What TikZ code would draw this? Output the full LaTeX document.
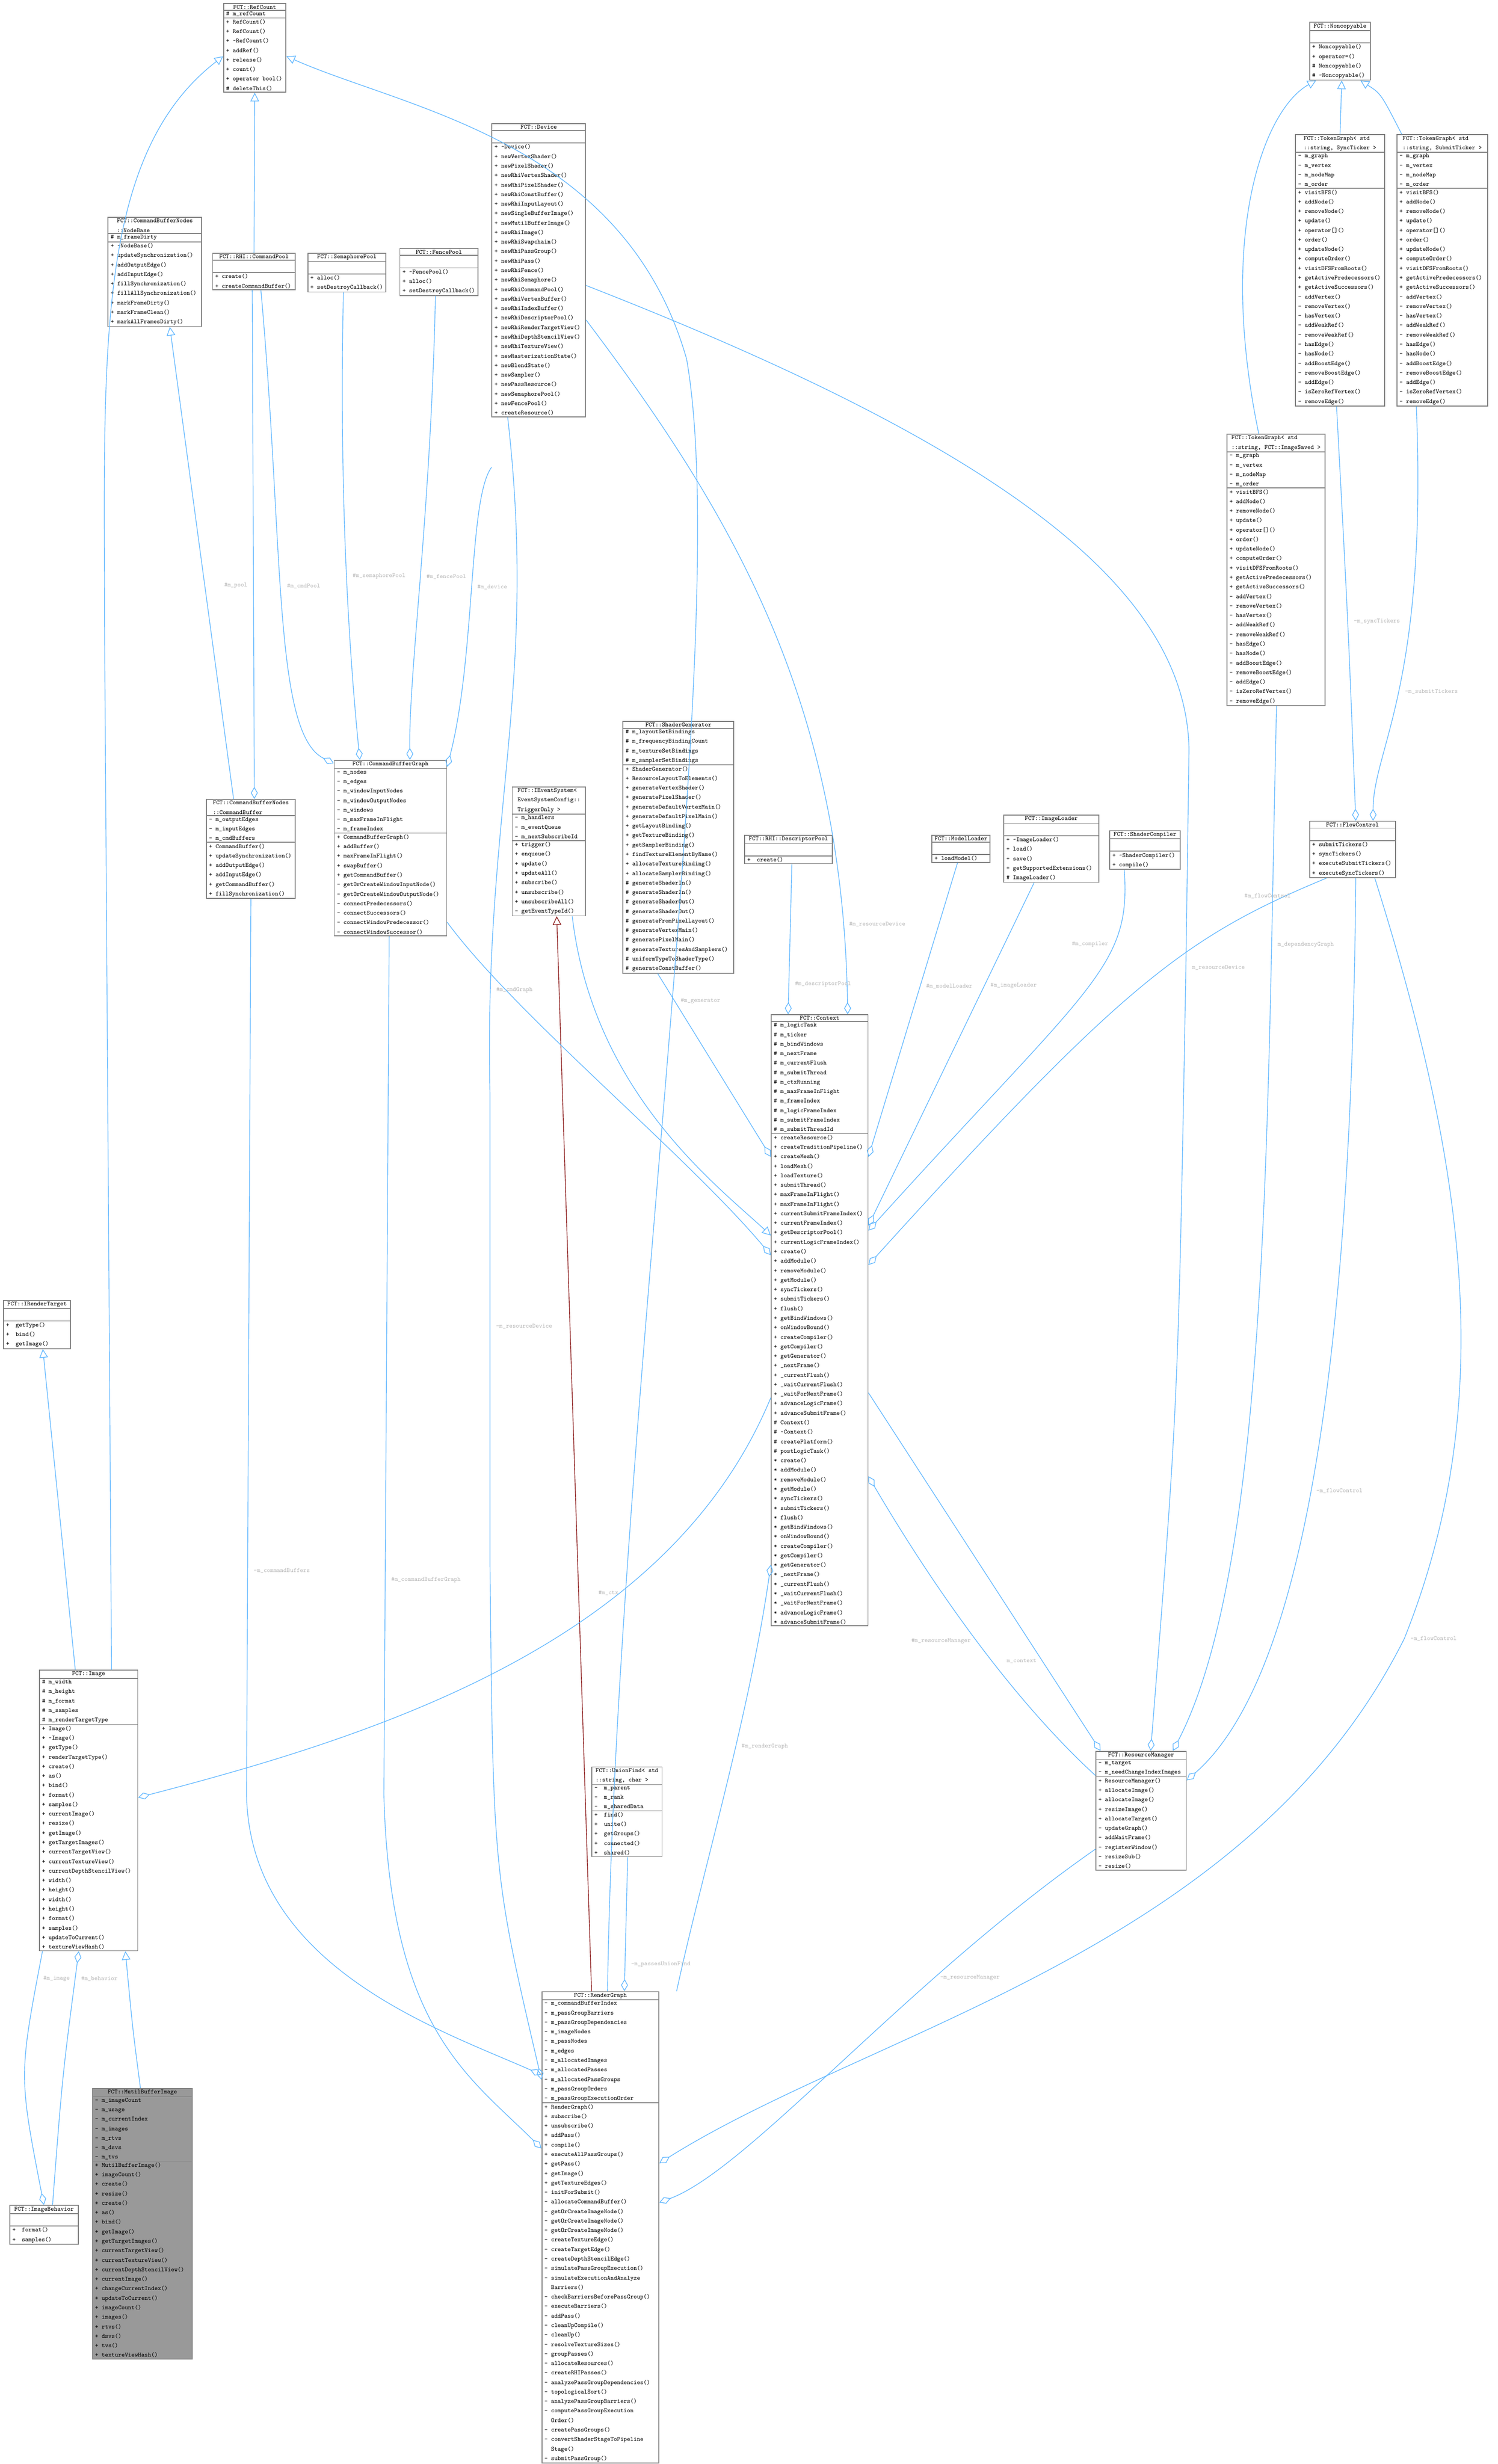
\documentclass[tikz,border=0pt]{standalone}
\usepackage{tikz}
\usetikzlibrary{shapes.multipart}
\usetikzlibrary{arrows.meta}
\definecolor{edgeblue}{RGB}{99,184,255}
\definecolor{edgered}{RGB}{139,26,26}
\definecolor{boxgray}{RGB}{128,128,128}

\begin{document}
\begin{tikzpicture}[x=0.03175cm,y=-0.03175cm,
    cls/.style={draw=boxgray, line width=0.5pt, fill=white, anchor=north west,
        rectangle split, rectangle split parts=3, rectangle split part align={center,left,left},
        inner xsep=1.5pt, inner ysep=0.6pt, align=left, minimum width=#1*0.3175mm,
        font=\ttfamily\fontsize{3.6}{5.5}\selectfont},
    inh/.style={draw=edgeblue, line width=0.4pt, -{Triangle[open,length=5pt,width=5pt]}},
    tmpl/.style={draw=edgered, line width=0.4pt, -{Triangle[open,length=5pt,width=5pt]}},
    agg/.style={draw=edgeblue, line width=0.4pt, -{Diamond[open,length=7pt,width=4pt]}},
    lbl/.style={font=\ttfamily\fontsize{3.6}{4}\selectfont, text=gray!55}]
    \useasboundingbox (0,0) rectangle (960,1579);

    % 上层的类
    \node[cls=40] (refcount) at (143,2) {FCT::RefCount \nodepart{second} \# m\_refCount
        \nodepart{third} + RefCount()\\+ RefCount()\\+ \textasciitilde RefCount()\\+ addRef()\\+ release()\\+ count()\\+ operator bool()\\\# deleteThis()};
    \node[cls=60] (device) at (315,79) {FCT::Device \nodepart{second} \strut
        \nodepart{third} + \textasciitilde Device()\\+ newVertexShader()\\+ newPixelShader()\\+ newRhiVertexShader()\\+ newRhiPixelShader()\\+ newRhiConstBuffer()\\+ newRhiInputLayout()\\+ newSingleBufferImage()\\+ newMutilBufferImage()\\+ newRhiImage()\\+ newRhiSwapchain()\\+ newRhiPassGroup()\\+ newRhiPass()\\+ newRhiFence()\\+ newRhiSemaphore()\\+ newRhiCommandPool()\\+ newRhiVertexBuffer()\\+ newRhiIndexBuffer()\\+ newRhiDescriptorPool()\\+ newRhiRenderTargetView()\\+ newRhiDepthStencilView()\\+ newRhiTextureView()\\+ newRasterizationState()\\+ newBlendState()\\+ newSampler()\\+ newPassResource()\\+ newSemaphorePool()\\+ newFencePool()\\+ createResource()};
    \node[cls=60] (nodebase) at (69,139) {FCT::CommandBufferNodes\\::NodeBase \nodepart{second} \# m\_frameDirty
        \nodepart{third} + \textasciitilde NodeBase()\\+ updateSynchronization()\\+ addOutputEdge()\\+ addInputEdge()\\+ fillSynchronization()\\+ fillAllSynchronization()\\+ markFrameDirty()\\+ markFrameClean()\\+ markAllFramesDirty()};
    \node[cls=53] (cmdpool) at (136,162) {FCT::RHI::CommandPool \nodepart{second} \strut
        \nodepart{third} + create()\\+ createCommandBuffer()};
    \node[cls=50] (sempool) at (197,162) {FCT::SemaphorePool \nodepart{second} \strut
        \nodepart{third} + alloc()\\+ setDestroyCallback()};
    \node[cls=50] (fencepool) at (256,159) {FCT::FencePool \nodepart{second} \strut
        \nodepart{third} + \textasciitilde FencePool()\\+ alloc()\\+ setDestroyCallback()};
    \node[cls=39] (noncopy) at (839,14) {FCT::Noncopyable \nodepart{second} \strut
        \nodepart{third} + Noncopyable()\\+ operator=()\\\# Noncopyable()\\\# \textasciitilde Noncopyable()};
    \node[cls=57] (syncg) at (830,86) {FCT::TokenGraph< std\\::string, SyncTicker >
        \nodepart{second} - m\_graph\\- m\_vertex\\- m\_nodeMap\\- m\_order
        \nodepart{third} + visitBFS()\\+ addNode()\\+ removeNode()\\+ update()\\+ operator[]()\\+ order()\\+ updateNode()\\+ computeOrder()\\+ visitDFSFromRoots()\\+ getActivePredecessors()\\+ getActiveSuccessors()\\- addVertex()\\- removeVertex()\\- hasVertex()\\- addWeakRef()\\- removeWeakRef()\\- hasEdge()\\- hasNode()\\- addBoostEdge()\\- removeBoostEdge()\\- addEdge()\\- isZeroRefVertex()\\- removeEdge()};
    \node[cls=58] (submitg) at (895,86) {FCT::TokenGraph< std\\::string, SubmitTicker >
        \nodepart{second} - m\_graph\\- m\_vertex\\- m\_nodeMap\\- m\_order
        \nodepart{third} + visitBFS()\\+ addNode()\\+ removeNode()\\+ update()\\+ operator[]()\\+ order()\\+ updateNode()\\+ computeOrder()\\+ visitDFSFromRoots()\\+ getActivePredecessors()\\+ getActiveSuccessors()\\- addVertex()\\- removeVertex()\\- hasVertex()\\- addWeakRef()\\- removeWeakRef()\\- hasEdge()\\- hasNode()\\- addBoostEdge()\\- removeBoostEdge()\\- addEdge()\\- isZeroRefVertex()\\- removeEdge()};
    \node[cls=63] (savedg) at (786,278) {FCT::TokenGraph< std\\::string, FCT::ImageSaved >
        \nodepart{second} - m\_graph\\- m\_vertex\\- m\_nodeMap\\- m\_order
        \nodepart{third} + visitBFS()\\+ addNode()\\+ removeNode()\\+ update()\\+ operator[]()\\+ order()\\+ updateNode()\\+ computeOrder()\\+ visitDFSFromRoots()\\+ getActivePredecessors()\\+ getActiveSuccessors()\\- addVertex()\\- removeVertex()\\- hasVertex()\\- addWeakRef()\\- removeWeakRef()\\- hasEdge()\\- hasNode()\\- addBoostEdge()\\- removeBoostEdge()\\- addEdge()\\- isZeroRefVertex()\\- removeEdge()};

    % 中层的类
    \node[cls=57] (cbuf) at (132,512) {FCT::CommandBufferNodes\\::CommandBuffer
        \nodepart{second} - m\_outputEdges\\- m\_inputEdges\\- m\_cmdBuffers
        \nodepart{third} + CommandBuffer()\\+ updateSynchronization()\\+ addOutputEdge()\\+ addInputEdge()\\+ getCommandBuffer()\\+ fillSynchronization()};
    \node[cls=72] (cbg) at (214,487) {FCT::CommandBufferGraph
        \nodepart{second} - m\_nodes\\- m\_edges\\- m\_windowInputNodes\\- m\_windowOutputNodes\\- m\_windows\\- m\_maxFrameInFlight\\- m\_frameIndex
        \nodepart{third} + CommandBufferGraph()\\+ addBuffer()\\+ maxFrameInFlight()\\+ swapBuffer()\\+ getCommandBuffer()\\- getOrCreateWindowInputNode()\\- getOrCreateWindowOutputNode()\\- connectPredecessors()\\- connectSuccessors()\\- connectWindowPredecessor()\\- connectWindowSuccessor()};
    \node[cls=47] (evsys) at (328,504) {FCT::IEventSystem<\\EventSystemConfig::\\TriggerOnly >
        \nodepart{second} - m\_handlers\\- m\_eventQueue\\- m\_nextSubscribeId
        \nodepart{third} + trigger()\\+ enqueue()\\+ update()\\+ updateAll()\\+ subscribe()\\+ unsubscribe()\\+ unsubscribeAll()\\- getEventTypeId()};
    \node[cls=71] (shgen) at (399,462) {FCT::ShaderGenerator
        \nodepart{second} \# m\_layoutSetBindings\\\# m\_frequencyBindingCount\\\# m\_textureSetBindings\\\# m\_samplerSetBindings
        \nodepart{third} + ShaderGenerator()\\+ ResourceLayoutToElements()\\+ generateVertexShader()\\+ generatePixelShader()\\+ generateDefaultVertexMain()\\+ generateDefaultPixelMain()\\+ getLayoutBinding()\\+ getTextureBinding()\\+ getSamplerBinding()\\+ findTextureElementByName()\\+ allocateTextureBinding()\\+ allocateSamplerBinding()\\\# generateShaderIn()\\\# generateShaderIn()\\\# generateShaderOut()\\\# generateShaderOut()\\\# generateFromPixelLayout()\\\# generateVertexMain()\\\# generatePixelMain()\\\# generateTexturesAndSamplers()\\\# uniformTypeToShaderType()\\\# generateConstBuffer()};
    \node[cls=56] (descpool) at (477,535) {FCT::RHI::DescriptorPool \nodepart{second} \strut
        \nodepart{third} +\quad create()};
    \node[cls=37] (modelld) at (597,535) {FCT::ModelLoader \nodepart{second} \strut
        \nodepart{third} + loadModel()};
    \node[cls=61] (imgld) at (643,522) {FCT::ImageLoader \nodepart{second} \strut
        \nodepart{third} + \textasciitilde ImageLoader()\\+ load()\\+ save()\\+ getSupportedExtensions()\\\# ImageLoader()};
    \node[cls=45] (shcomp) at (711,532) {FCT::ShaderCompiler \nodepart{second} \strut
        \nodepart{third} + \textasciitilde ShaderCompiler()\\+ compile()};
    \node[cls=55] (flowctl) at (839,526) {FCT::FlowControl \nodepart{second} \strut
        \nodepart{third} + submitTickers()\\+ syncTickers()\\+ executeSubmitTickers()\\+ executeSyncTickers()};
    \node[cls=62] (ctx) at (494,650) {FCT::Context
        \nodepart{second} \# m\_logicTask\\\# m\_ticker\\\# m\_bindWindows\\\# m\_nextFrame\\\# m\_currentFlush\\\# m\_submitThread\\\# m\_ctxRunning\\\# m\_maxFrameInFlight\\\# m\_frameIndex\\\# m\_logicFrameIndex\\\# m\_submitFrameIndex\\\# m\_submitThreadId
        \nodepart{third} + createResource()\\+ createTraditionPipeline()\\+ createMesh()\\+ loadMesh()\\+ loadTexture()\\+ submitThread()\\+ maxFrameInFlight()\\+ maxFrameInFlight()\\+ currentSubmitFrameIndex()\\+ currentFrameIndex()\\+ getDescriptorPool()\\+ currentLogicFrameIndex()\\+ create()\\+ addModule()\\+ removeModule()\\+ getModule()\\+ syncTickers()\\+ submitTickers()\\+ flush()\\+ getBindWindows()\\+ onWindowBound()\\+ createCompiler()\\+ getCompiler()\\+ getGenerator()\\+ \_nextFrame()\\+ \_currentFlush()\\+ \_waitCurrentFlush()\\+ \_waitForNextFrame()\\+ advanceLogicFrame()\\+ advanceSubmitFrame()\\\# Context()\\\# \textasciitilde Context()\\\# createPlatform()\\\# postLogicTask()\\* create()\\* addModule()\\* removeModule()\\* getModule()\\* syncTickers()\\* submitTickers()\\* flush()\\* getBindWindows()\\* onWindowBound()\\* createCompiler()\\* getCompiler()\\* getGenerator()\\* \_nextFrame()\\* \_currentFlush()\\* \_waitCurrentFlush()\\* \_waitForNextFrame()\\* advanceLogicFrame()\\* advanceSubmitFrame()};

    % 下层的类
    \node[cls=43] (irt) at (2,833) {FCT::IRenderTarget \nodepart{second} \strut
        \nodepart{third} +\quad getType()\\+\quad bind()\\+\quad getImage()};
    \node[cls=63] (image) at (25,1070) {FCT::Image
        \nodepart{second} \# m\_width\\\# m\_height\\\# m\_format\\\# m\_samples\\\# m\_renderTargetType
        \nodepart{third} + Image()\\+ \textasciitilde Image()\\+ getType()\\+ renderTargetType()\\+ create()\\+ as()\\+ bind()\\+ format()\\+ samples()\\+ currentImage()\\+ resize()\\+ getImage()\\+ getTargetImages()\\+ currentTargetView()\\+ currentTextureView()\\+ currentDepthStencilView()\\+ width()\\+ height()\\+ width()\\+ height()\\+ format()\\+ samples()\\+ updateToCurrent()\\+ textureViewHash()};
    \node[cls=44] (imgbeh) at (6,1413) {FCT::ImageBehavior \nodepart{second} \strut
        \nodepart{third} +\quad format()\\+\quad samples()};
    \node[cls=64, fill={rgb,255:red,153;green,153;blue,153}] (mbimage) at (59,1338) {FCT::MutilBufferImage
        \nodepart{second} - m\_imageCount\\- m\_usage\\- m\_currentIndex\\- m\_images\\- m\_rtvs\\- m\_dsvs\\- m\_tvs
        \nodepart{third} + MutilBufferImage()\\+ imageCount()\\+ create()\\+ resize()\\+ create()\\+ as()\\+ bind()\\+ getImage()\\+ getTargetImages()\\+ currentTargetView()\\+ currentTextureView()\\+ currentDepthStencilView()\\+ currentImage()\\+ changeCurrentIndex()\\+ updateToCurrent()\\+ imageCount()\\+ images()\\+ rtvs()\\+ dsvs()\\+ tvs()\\+ textureViewHash()};
    \node[cls=45] (unionf) at (379,1132) {FCT::UnionFind< std\\::string, char >
        \nodepart{second} -\quad m\_parent\\-\quad m\_rank\\-\quad m\_sharedData
        \nodepart{third} +\quad find()\\+\quad unite()\\+\quad getGroups()\\+\quad connected()\\+\quad shared()};
    \node[cls=75] (rgraph) at (347,1276) {FCT::RenderGraph
        \nodepart{second} - m\_commandBufferIndex\\- m\_passGroupBarriers\\- m\_passGroupDependencies\\- m\_imageNodes\\- m\_passNodes\\- m\_edges\\- m\_allocatedImages\\- m\_allocatedPasses\\- m\_allocatedPassGroups\\- m\_passGroupOrders\\- m\_passGroupExecutionOrder
        \nodepart{third} + RenderGraph()\\+ subscribe()\\+ unsubscribe()\\+ addPass()\\+ compile()\\+ executeAllPassGroups()\\+ getPass()\\+ getImage()\\+ getTextureEdges()\\- initForSubmit()\\- allocateCommandBuffer()\\- getOrCreateImageNode()\\- getOrCreateImageNode()\\- getOrCreateImageNode()\\- createTextureEdge()\\- createTargetEdge()\\- createDepthStencilEdge()\\- simulatePassGroupExecution()\\- simulateExecutionAndAnalyze\\\phantom{- }Barriers()\\- checkBarriersBeforePassGroup()\\- executeBarriers()\\- addPass()\\- cleanUpCompile()\\- cleanUp()\\- resolveTextureSizes()\\- groupPasses()\\- allocateResources()\\- createRHIPasses()\\- analyzePassGroupDependencies()\\- topologicalSort()\\- analyzePassGroupBarriers()\\- computePassGroupExecution\\\phantom{- }Order()\\- createPassGroups()\\- convertShaderStageToPipeline\\\phantom{- }Stage()\\- submitPassGroup()};
    \node[cls=58] (resmgr) at (702,1122) {FCT::ResourceManager
        \nodepart{second} - m\_target\\- m\_needChangeIndexImages
        \nodepart{third} + ResourceManager()\\+ allocateImage()\\+ allocateImage()\\+ resizeImage()\\+ allocateTarget()\\- updateGraph()\\- addWaitFrame()\\- registerWindow()\\- resizeSub()\\- resize()};

    % 继承
    \draw[inh] (cmdpool.north) -- (refcount.south);
    \draw[inh] ([xshift=16]cbuf.north west) -- ([xshift=36]nodebase.south west);
    \draw[inh] ([xshift=42]image.north west) -- (67,400) .. controls (67,230) and (60,100) .. ([yshift=-1.7mm]refcount.west);
    \draw[inh] ([xshift=-30]rgraph.north east) .. controls (395,900) and (470,400) .. (440,230)
        .. controls (400,90) and (260,70) .. ([yshift=-1.7mm]refcount.east);
    \draw[inh] ([xshift=21]image.north west) -- ([xshift=23]irt.south west);
    \draw[inh] ([xshift=28]mbimage.north west) .. controls (85,1300) .. ([xshift=50]image.south west);
    \draw[inh] (syncg.north) -- ([xshift=1]noncopy.south);
    \draw[inh] ([xshift=3]submitg.north west) .. controls (885,60) .. ([xshift=-6]noncopy.south east);
    \draw[inh] ([xshift=-10]savedg.north) .. controls (780,150) and (810,70) .. ([xshift=4]noncopy.south west);
    \draw[inh] ([xshift=35]evsys.south west) .. controls (380,700) and (460,760) .. ([yshift=-45mm]ctx.north west);
    \draw[tmpl] ([xshift=29]rgraph.north west) -- ([xshift=26]evsys.south west);

    % 聚合
    \draw[agg] ([xshift=-1]cmdpool.south) -- node[lbl, pos=0.58, left] {\#m\_pool} ([xshift=28]cbuf.north west);
    \draw[agg] ([xshift=4]cmdpool.south) .. controls (182,350) and (175,470) .. node[lbl, pos=0.45, right] {\#m\_cmdPool} ([yshift=-2]cbg.north west);
    \draw[agg] ([xshift=-2]sempool.south) .. controls (217,330) and (225,430) .. node[lbl, pos=0.5, right] {\#m\_semaphorePool} ([xshift=15]cbg.north west);
    \draw[agg] ([xshift=-2]fencepool.south) .. controls (276,330) and (262,430) .. node[lbl, pos=0.5, right] {\#m\_fencePool} ([xshift=44]cbg.north west);
    \draw[agg] ([yshift=-70mm]device.north west) .. controls (300,320) and (305,420) .. node[lbl, pos=0.5, right] {\#m\_device} ([yshift=-4]cbg.north east);
    \draw[agg] ([xshift=-18]device.south) .. controls (345,440) and (310,520) .. (314,700)
        -- node[lbl, pos=0.5, right] {-m\_resourceDevice} (314,1000) .. controls (316,1200) .. ([yshift=-18mm]rgraph.north west);
    \draw[agg] ([yshift=-40mm]device.north east) .. controls (470,330) and (540,450) .. node[lbl, pos=0.9, right] {\#m\_resourceDevice} ([xshift=-12]ctx.north east);
    \draw[agg] ([yshift=-33mm]device.north east) .. controls (650,290) and (760,380) .. (762,480)
        -- (760,620) node[lbl, right] {m\_resourceDevice} .. controls (755,900) .. ([xshift=32]resmgr.north west);
    \draw[agg] ([xshift=29]savedg.south west) .. controls (812,700) and (815,1000) .. node[lbl, pos=0.2, right] {m\_dependencyGraph} ([xshift=-8]resmgr.north east);
    \draw[agg] ([xshift=-2]syncg.south) .. controls (864,400) .. node[lbl, pos=0.5, right] {-m\_syncTickers} ([xshift=27]flowctl.north west);
    \draw[agg] ([xshift=-15]submitg.south) .. controls (915,440) and (880,480) .. node[lbl, pos=0.5, right] {-m\_submitTickers} ([xshift=37]flowctl.north west);
    \draw[agg] ([xshift=27]flowctl.south west) .. controls (866,900) and (830,1080) .. node[lbl, pos=0.5, right] {-m\_flowControl} ([yshift=-6mm]resmgr.north east);
    \draw[agg] ([xshift=38]flowctl.south west) .. controls (940,750) and (960,900) .. (900,1050)
        node[lbl, right] {-m\_flowControl} .. controls (800,1250) and (560,1300) .. ([yshift=-35mm]rgraph.north east);
    \draw[agg] ([xshift=10]flowctl.south west) .. controls (760,600) and (720,630) .. node[lbl, pos=0.15, above] {\#m\_flowControl} ([yshift=-51mm]ctx.north east);
    \draw[agg] ([xshift=-12]shcomp.south) .. controls (725,620) and (700,630) .. node[lbl, pos=0.3, left] {\#m\_compiler} ([yshift=-44mm]ctx.north east);
    \draw[agg] ([xshift=-10]imgld.south) -- node[lbl, pos=0.3, right] {\#m\_imageLoader} ([yshift=-43mm]ctx.north east);
    \draw[agg] ([xshift=-2]modelld.south) -- node[lbl, pos=0.42, right] {\#m\_modelLoader} ([yshift=-29mm]ctx.north east);
    \draw[agg] ([xshift=2]descpool.south) -- node[lbl, pos=0.8, right] {\#m\_descriptorPool} ([xshift=10]ctx.north west);
    \draw[agg] ([xshift=-12]shgen.south) -- node[lbl, pos=0.15, right] {\#m\_generator} ([yshift=-29mm]ctx.north west);
    \draw[agg] ([yshift=-33mm]cbg.north east) .. controls (330,650) and (440,740) .. node[lbl, pos=0.25, above] {\#m\_cmdGraph} ([yshift=-49mm]ctx.north west);
    \draw[agg] ([yshift=-78mm]ctx.north west) .. controls (430,1050) and (250,1110) .. node[lbl, pos=0.35, above] {\#m\_ctx} ([yshift=-26mm]image.north east);
    \draw[agg] ([yshift=-77mm]ctx.north east) -- node[lbl, pos=0.75, left] {m\_context} ([xshift=3]resmgr.north west);
    \draw[agg] ([yshift=-5mm]resmgr.north west) .. controls (650,1090) and (600,1020) .. node[lbl, pos=0.5, left] {\#m\_resourceManager} ([yshift=-94mm]ctx.north east);
    \draw[agg] ([yshift=-20mm]resmgr.north west) .. controls (580,1270) and (480,1390) .. node[lbl, pos=0.3, right] {-m\_resourceManager} ([yshift=-43mm]rgraph.north east);
    \draw[agg] ([xshift=10]rgraph.north east) .. controls (450,1200) and (480,1100) .. node[lbl, pos=0.6, right] {\#m\_renderGraph} ([yshift=-112mm]ctx.north west);
    \draw[agg] ([xshift=21]unionf.south west) -- node[lbl, pos=0.8, right] {-m\_passesUnionFind} ([xshift=48]rgraph.north west);
    \draw[agg] ([xshift=26]cbuf.south west) -- node[lbl, pos=0.75, right] {-m\_commandBuffers} (158,1150) .. controls (160,1260) and (280,1300) .. ([yshift=-17mm]rgraph.north west);
    \draw[agg] ([xshift=32]cbg.south west) -- node[lbl, pos=0.75, right] {\#m\_commandBufferGraph} (246,1150) .. controls (250,1300) and (300,1330) .. ([yshift=-32mm]rgraph.north west);
    \draw[agg] ([xshift=2]image.south west) .. controls (12,1330) .. node[lbl, pos=0.08, right] {\#m\_image} ([xshift=20]imgbeh.north west);
    \draw[agg] ([xshift=25]imgbeh.north west) .. controls (40,1330) .. node[lbl, pos=0.92, right] {\#m\_behavior} ([xshift=23]image.south west);
\end{tikzpicture}
\end{document}
